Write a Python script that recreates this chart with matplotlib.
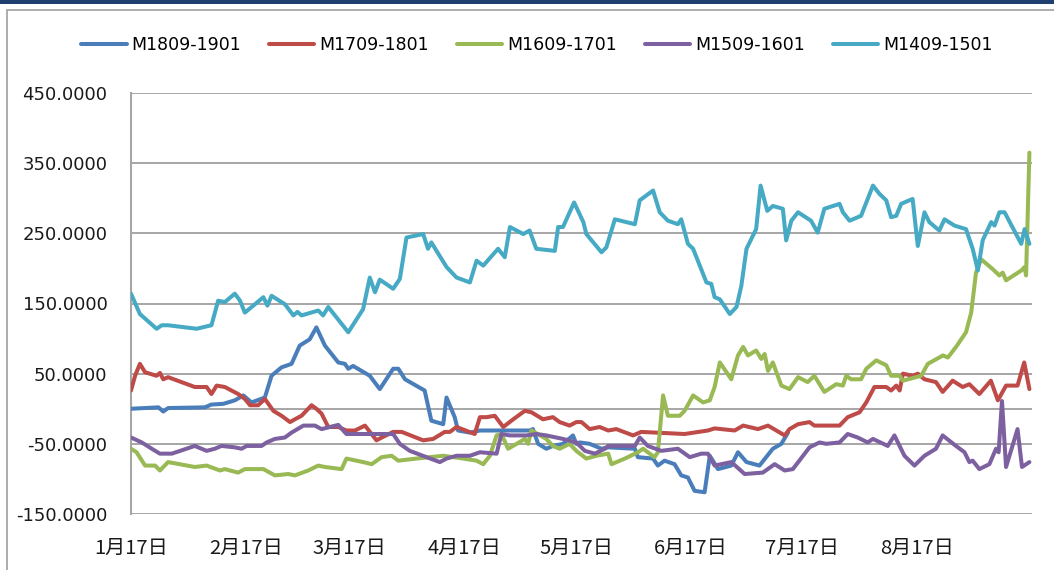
import matplotlib
matplotlib.use("Agg")
import matplotlib.pyplot as plt
from matplotlib.patches import Rectangle
from matplotlib.ticker import FuncFormatter

# ---- data: x = days since 1月17日, y = spread value ----
series_names = ["M1809-1901", "M1709-1801", "M1609-1701", "M1509-1601", "M1409-1501"]
colors = ["#4A7EBB", "#BE4B48", "#98B954", "#7D60A0", "#46AAC5"]

m1809_x = [0, 7.4, 8.7, 10, 19.9, 21.7, 24.9, 28, 30.3, 32.5, 36.1, 37.9, 40.6, 43.3, 45.5, 48.2, 50, 52.3,
           55.9, 57.7, 58.6, 59.9, 64.4, 67.1, 70.7, 72.1, 73.9, 79.2, 81.0, 84.2, 85.1, 87.3, 88.2, 91.4,
           94.1, 107.5, 108.4, 109.8, 112, 113.8, 116.5, 119.2, 120.1, 121, 123.7, 126.9, 128.7, 135.9,
           136.7, 140.8, 142.1, 143.9, 146.6, 148.4, 150.2, 152, 154.7, 156.1, 158.3, 161.9, 163.7, 166,
           169.5, 173.1, 175.4, 177.2]
m1809_y = [0, 2, -4, 1, 2, 6, 7, 12, 19, 9, 16, 47, 59, 64, 90, 99, 116, 90,
           66, 64, 57, 61, 47, 28, 57, 57, 42, 26, -17, -22, 16, -12, -31, -34,
           -31, -31, -29, -50, -57, -53, -50, -38, -50, -48, -50, -57, -55, -57,
           -69, -71, -81, -74, -79, -95, -98, -117, -119, -67, -86, -81, -62, -76,
           -81, -57, -50, -34]

m1709_x = [0, 1.1, 2.4, 3.8, 6.9, 7.8, 8.7, 10, 17.2, 20.4, 21.7, 23.1, 25.3, 28.9, 30.7, 32.1, 34.3, 36.1,
           38.4, 40.6, 42.9, 44.2, 46, 48.7, 50, 51.4, 53.2, 55.9, 58.1, 60.4, 63.1, 66.2, 68, 70.7, 73,
           78.8, 81.5, 84.6, 86, 87.8, 92.7, 94.1, 95.9, 98.1, 100.4, 103.1, 106.2, 108, 111.1, 113.8,
           115.6, 118.3, 120.1, 121.5, 123.7, 126.4, 128.7, 130.9, 135.4, 137.6, 149.3, 155.6, 157.4,
           162.8, 165.1, 169.1, 171.8, 176.3, 177.6, 179.9, 183, 184.3, 186.6, 191.1, 193.3, 196.5,
           198.3, 200.5, 203.7, 205, 206.4, 207.3, 208.2, 210.8, 212.2, 214, 217.1, 218.9, 221.6,
           224.3, 226.1, 228.8, 231.9, 233.8, 236, 239.1, 240.9, 242.3]
m1709_y = [26, 47, 64, 52, 47, 51, 42, 45, 31, 31, 21, 33, 31, 21, 14, 5, 5, 14,
           -3, -10, -19, -15, -10, 5, 0, -7, -26, -26, -31, -31, -24, -45, -40, -33, -33,
           -45, -43, -33, -33, -26, -36, -12, -12, -10, -26, -15, -3, -5, -15, -12,
           -19, -24, -19, -19, -29, -26, -31, -29, -38, -33, -36, -31, -28,
           -31, -24, -29, -24, -38, -29, -22, -19, -24, -24, -24, -12, -5,
           9, 31, 31, 26, 33, 26, 50, 47, 50, 42, 38, 24, 40,
           31, 35, 21, 40, 12, 33, 33, 66, 28]

m1609_x = [0, 1.5, 3.8, 6.5, 7.8, 10, 17.2, 20.4, 24, 25.3, 28.9, 30.7, 35.7, 38.8, 42.4, 44.2, 47.8, 50.5,
           52.3, 56.8, 58.1, 62.6, 64.9, 67.6, 70.3, 72.1, 77, 80.6, 84.2, 89.6, 93.2, 95, 96.8, 98.6,
           99.9, 101.7, 104, 106.2, 107.1, 108, 112, 113.8, 115.6, 118.3, 120.1, 122.8, 125.5, 128.7,
           129.6, 133.2, 136.7, 138.1, 141.2, 142.1, 143.5, 144.8, 148, 149.3, 151.6, 154.3, 156.1,
           157.4, 158.8, 161.9, 163.7, 165.1, 166.4, 168.6, 170, 170.9, 171.8, 173.1, 175.4, 177.6,
           179.9, 182.5, 184.3, 187, 190.2, 192, 192.9, 194.2, 196.9, 198.3, 201, 203.7, 205, 207.3,
           208.2, 213.1, 214.9, 219, 220.3, 222.5, 225.2, 226.6, 227.9, 229.3, 232.4, 234.2, 235.1,
           236, 240.1, 241, 241.4, 242.3]
m1609_y = [-57, -62, -81, -81, -88, -76, -83, -81, -88, -86, -91, -86, -86, -95, -93, -95, -88, -81,
           -83, -86, -71, -76, -79, -69, -67, -74, -71, -69, -67, -71, -74, -79, -67, -38,
           -36, -57, -50, -43, -50, -31, -43, -53, -57, -50, -60, -71, -67, -64,
           -79, -71, -62, -57, -69, -62, 19, -10, -10, -3, 19, 9, 12,
           31, 66, 42, 76, 88, 76, 83, 71, 78, 54, 66, 33, 28,
           45, 38, 47, 24, 35, 33, 47, 42, 42, 57, 69, 62, 47, 47,
           40, 47, 64, 76, 73, 88, 109, 137, 194, 213, 199, 190, 194,
           183, 197, 202, 190, 365]

m1509_x = [0, 2.9, 5.6, 7.8, 11, 17.2, 20.4, 22.6, 24.4, 28, 29.8, 31.2, 35.2, 36.6, 38.8, 41.5, 43.3, 46.5,
           49.6, 51.4, 55.9, 58.1, 64.4, 70.7, 72.5, 75.2, 79.7, 83.3, 85.1, 87.8, 91.4, 94.1, 98.6, 99.9,
           102.2, 106.7, 109.3, 112, 116.5, 120.1, 122.4, 125.1, 127.8, 128.7, 135.9, 137.2, 139.4, 143,
           147.5, 150.7, 153.8, 155.6, 157.4, 161.9, 165.5, 170.4, 173.6, 176.3, 178.5, 183, 185.7,
           187.5, 191.1, 193.3, 196, 198.7, 200.1, 204.1, 205.9, 208.6, 211.3, 214, 217.1, 218.9, 222.5,
           224.8, 226.1, 227, 228.8, 231.5, 233.3, 234, 234.9, 236, 239.1, 240.3, 242.3]
m1509_y = [-41, -48, -57, -64, -64, -53, -60, -57, -53, -55, -57, -53, -53, -48, -43, -41, -34, -24,
           -24, -29, -23, -36, -36, -36, -50, -60, -69, -76, -71, -67, -67, -62, -64, -36,
           -38, -38, -36, -38, -43, -48, -60, -64, -57, -53, -53, -41, -53, -60,
           -57, -69, -64, -64, -81, -76, -93, -91, -79, -88, -86, -55, -48,
           -50, -48, -36, -41, -48, -43, -53, -38, -67, -81, -67, -57, -38, -53,
           -62, -76, -74, -86, -79, -57, -62, 11, -83, -29, -83, -76]

m1409_x = [0, 2.4, 6.9, 8.3, 10, 17.7, 21.7, 23.5, 25.3, 28, 29.4, 30.7, 33, 35.7, 36.8, 37.9, 41.5, 43.8,
           44.9, 46, 50.5, 51.8, 53.2, 58.6, 62.6, 64.4, 65.8, 67.1, 70.7, 72.5, 74.3, 78.8, 80.1, 81,
           85.1, 87.8, 91.4, 93.2, 95, 99, 100.8, 102.2, 105.8, 107.5, 109.3, 114.3, 115.2, 116.5, 119.5,
           122, 122.8, 126.9, 128.2, 130.5, 135.9, 137.2, 140.8, 142.6, 144.8, 147.5, 148.4, 150.2,
           151.6, 155.2, 156.5, 157.4, 158.8, 161.5, 163.3, 164.6, 166, 168.6, 169.8, 171.6, 173.1,
           175.8, 176.7, 178.1, 179.9, 183.4, 185.2, 187, 191.1, 192, 193.8, 196.9, 200.1, 201.9, 203.7,
           205, 206.4, 207.7, 210.8, 212.2, 214, 215.3, 218, 219.4, 222.1, 225.2, 227, 228.4, 229.7,
           232, 232.9, 234.2, 235.6, 240.1, 241, 242.3]
m1409_y = [164, 135, 114, 119, 119, 114, 119, 154, 152, 164, 154, 137, 147, 159, 147, 161, 149, 133,
           138, 133, 140, 133, 145, 109, 142, 187, 166, 184, 171, 185, 244, 249, 228, 237,
           202, 187, 180, 211, 204, 228, 216, 259, 249, 254, 228, 225, 259, 259, 294,
           266, 249, 223, 230, 270, 263, 297, 311, 280, 268, 263, 270, 235,
           228, 180, 178, 159, 156, 135, 145, 175, 228, 256, 318, 282, 289,
           285, 240, 268, 280, 268, 251, 285, 292, 280, 268, 275, 318, 306, 297,
           273, 275, 292, 299, 232, 280, 266, 254, 270, 261, 256, 228, 197, 240,
           266, 261, 280, 280, 235, 256, 235]

month_tick_days = [0, 31, 59, 90, 120, 151, 181, 212]
month_tick_labels = ["1月17日", "2月17日", "3月17日", "4月17日", "5月17日", "6月17日", "7月17日", "8月17日"]
y_ticks = [-150, -50, 50, 150, 250, 350, 450]

xs = [m1809_x, m1709_x, m1609_x, m1509_x, m1409_x]
ys = [m1809_y, m1709_y, m1609_y, m1509_y, m1409_y]

W, H = 1054, 570
fig = plt.figure(figsize=(W / 100, H / 100), dpi=100)
fig.patch.set_facecolor("white")

# outer chart frame & top bar
fig.patches.append(Rectangle((7 / W, -0.1), 1.2, (H - 10) / H + 0.1, transform=fig.transFigure,
                             fill=False, edgecolor="#A6A6A6", lw=1.3, zorder=0))
fig.patches.append(Rectangle((0, (H - 3.5) / H), 1, 3.5 / H, transform=fig.transFigure,
                             facecolor="#1F3F6E", edgecolor="none", zorder=1))

ax = fig.add_axes([131 / W, 1 - 514 / H, (1032 - 131) / W, (514 - 93) / H])
for s in ax.spines.values():
    s.set_visible(False)
ax.spines["left"].set_visible(True)
ax.spines["left"].set_color("#A6A6A6")
ax.spines["left"].set_linewidth(1.5)

ax.set_ylim(-150, 450)
ax.set_xlim(0, 243)
ax.set_yticks(y_ticks)
ax.yaxis.set_major_formatter(FuncFormatter(lambda v, p: f"{v:.4f}"))
ax.grid(axis="y", color="#A6A6A6", lw=1.4)
ax.axhline(0, color="#A6A6A6", lw=1.4, zorder=1)
ax.set_axisbelow(True)

ax.set_xticks(month_tick_days)
ax.set_xticklabels(month_tick_labels, family=["Noto Sans CJK SC", "DejaVu Sans"], fontsize=14.5,
                   color="#1a1a1a")
ax.tick_params(axis="x", length=0, pad=17)
ax.tick_params(axis="y", length=0, pad=17, labelsize=13, labelcolor="#1a1a1a")

for x, y, c, n in zip(xs, ys, colors, series_names):
    ax.plot(x, y, color=c, lw=2.9, label=n, solid_joinstyle="round", solid_capstyle="round", zorder=3)

handles, labels = ax.get_legend_handles_labels()
fig.legend(handles, labels, loc="center", bbox_to_anchor=(537 / W, 1 - 45 / H), ncol=5, frameon=False,
           fontsize=12.5, handlelength=2.6, handletextpad=0.3, columnspacing=1.6)

fig.savefig("out.png", dpi=100, facecolor="white")
